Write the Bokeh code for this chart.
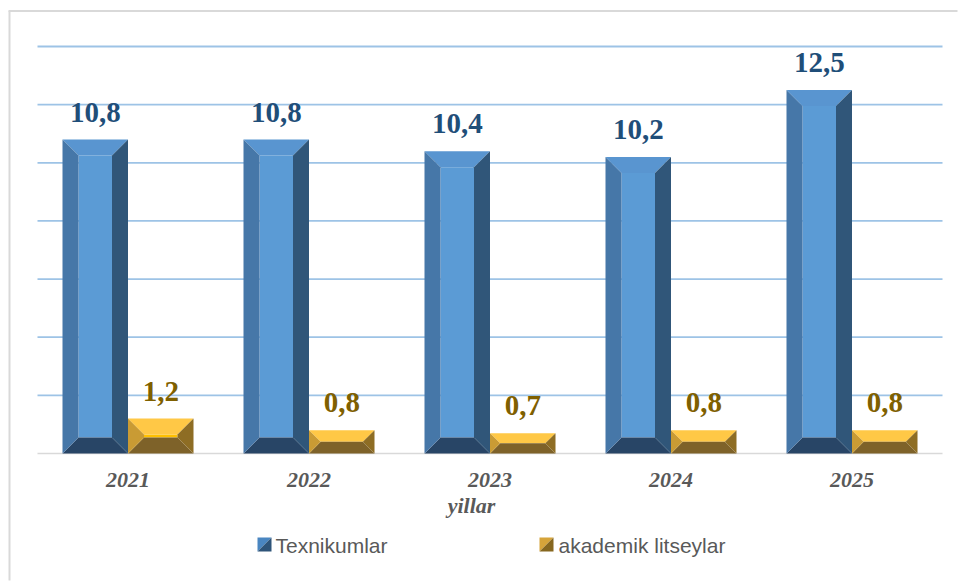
from bokeh.plotting import figure
from bokeh.models import Range1d, InlineStyleSheet
from bokeh.core.properties import value
from bokeh.embed import file_html
from bokeh.resources import INLINE

# ---------------- data ----------------
years = ["2021", "2022", "2023", "2024", "2025"]
texnikumlar = [10.8, 10.8, 10.4, 10.2, 12.5]
akademik = [1.2, 0.8, 0.7, 0.8, 0.8]
series_names = ["Texnikumlar", "akademik litseylar"]
y_ticks = [0, 2, 4, 6, 8, 10, 12, 14]
x_title = "yillar"

# ---------------- geometry (canvas pixels) ----------------
W, H = 958, 581
PLOT_L, PLOT_R = 37, 942
BASE_Y, TOP_Y = 453, 46
CW = (PLOT_R - PLOT_L) / len(years)          # px per category
UY = (BASE_Y - TOP_Y) / (y_ticks[-1] - y_ticks[0])  # px per value unit


def X(px):
    return (px - PLOT_L) / CW


def Y(py):
    return (BASE_Y - py) / UY


p = figure(width=W, height=H, output_backend="svg", toolbar_location=None,
           x_range=Range1d(X(0), X(W)), y_range=Range1d(Y(H), Y(0)),
           min_border=0, x_axis_location=None, y_axis_location=None)
p.outline_line_color = None
p.grid.visible = False
p.background_fill_color = "white"
p.border_fill_color = "white"
p.stylesheets = [InlineStyleSheet(css=":host { border: none !important; outline: none !important; }")]

# outer chart border (top and left visible in reference)
p.line(x=[X(8), X(W - 1)], y=[Y(10.5), Y(10.5)], line_color="#d9d9d9", line_width=2)
p.line(x=[X(9), X(9)], y=[Y(10.5), Y(H - 1)], line_color="#d9d9d9", line_width=2)

# gridlines
n = len(years)
grid_t = [t for t in y_ticks if t != 0]
p.segment(x0=[0] * len(grid_t), x1=[n] * len(grid_t), y0=grid_t, y1=grid_t,
          line_color="#9dc3e6", line_width=1.8)
p.segment(x0=[0], x1=[n], y0=[0], y1=[0], line_color="#d9d9d9", line_width=1.5)

# ---------------- bevelled bars ----------------
BW = 65.5 / CW
styles = [
    dict(top="#5995d0", left="#4677a8", right="#305679", bottom="#284566",
         center="#5b9bd5", label="#1f4e79"),
    dict(top="#ffc846", left="#c99b34", right="#8e6d24", bottom="#7e6229",
         center="#ffc000", label="#7f6000"),
]

for s, vals in enumerate([texnikumlar, akademik]):
    st = styles[s]
    faces = {"top": ([], []), "bottom": ([], []), "left": ([], []), "right": ([], [])}
    cx0, cx1, cy0, cy1 = [], [], [], []
    lx, ly, lt = [], [], []
    for i, v in enumerate(vals):
        c = i + 0.5
        L = c - BW if s == 0 else c
        R = c if s == 0 else c + BW
        T = v
        bpx = min(16.0, v * UY / 2.0)
        bx, by = bpx / CW, bpx / UY
        faces["top"][0].append([L, R, R - bx, L + bx])
        faces["top"][1].append([T, T, T - by, T - by])
        faces["bottom"][0].append([L, R, R - bx, L + bx])
        faces["bottom"][1].append([0, 0, by, by])
        faces["left"][0].append([L, L, L + bx, L + bx])
        faces["left"][1].append([0, T, T - by, by])
        faces["right"][0].append([R, R, R - bx, R - bx])
        faces["right"][1].append([0, T, T - by, by])
        if T - by > by:
            cx0.append(L + bx); cx1.append(R - bx); cy0.append(by); cy1.append(T - by)
        lx.append((L + R) / 2)
        ly.append(v + 27.5 / UY)
        lt.append(f"{v:.1f}".replace(".", ","))
    if cx0:
        p.quad(left=cx0, right=cx1, bottom=cy0, top=cy1, fill_color=st["center"],
               line_color=None)
    for face in ["top", "bottom", "left", "right"]:
        p.patches(xs=faces[face][0], ys=faces[face][1], fill_color=st[face],
                  line_color=None)
    p.text(x=lx, y=ly, text=lt, text_font=value("Liberation Serif"),
           text_font_style="bold", text_font_size="29px", text_color=st["label"],
           text_align="center", text_baseline="alphabetic")

# ---------------- category labels and axis title ----------------
p.text(x=[i + 0.5 for i in range(n)], y=[Y(479)] * n, text=years,
       text_font=value("Liberation Serif"), text_font_style="bold italic",
       text_font_size="22px", text_color="#595959", text_align="center",
       text_baseline="alphabetic")
p.text(x=[X(471)], y=[Y(505)], text=[x_title], text_font=value("Liberation Serif"),
       text_font_style="bold italic", text_font_size="22px", text_color="#595959",
       text_align="center", text_baseline="alphabetic")

# ---------------- legend ----------------
leg = [(257, 275, "#4a86c1", "#2e5479"),
       (539, 558, "#d6a43a", "#86671f")]
for k, (mx, tx, light, dark) in enumerate(leg):
    x0, x1 = X(mx), X(mx + 14)
    y0, y1 = Y(537), Y(551)
    p.patch(x=[x0, x1, x0], y=[y0, y0, y1], fill_color=light, line_color=None)
    p.patch(x=[x1, x1, x0], y=[y0, y1, y1], fill_color=dark, line_color=None)
    p.text(x=[X(tx)], y=[Y(545)], text=[series_names[k]],
           text_font=value("Liberation Sans"), text_font_size="21px",
           text_color="#595959", text_align="left", text_baseline="alphabetic")

open("out.html", "w").write(file_html(p, INLINE))
